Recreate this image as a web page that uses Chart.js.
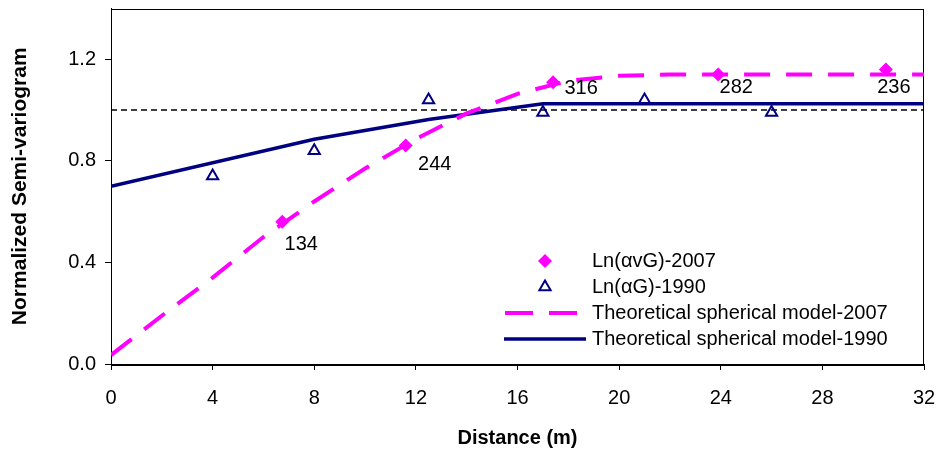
<!DOCTYPE html>
<html>
<head>
<meta charset="utf-8">
<script src="https://cdn.jsdelivr.net/npm/chart.js@4/dist/chart.umd.min.js"></script>
<style>
  html, body { margin: 0; padding: 0; background: #fff; }
  #wrap { width: 940px; height: 454px; position: relative; }
</style>
</head>
<body>
<div id="wrap"><canvas id="c"></canvas></div>
<script>
// ---- Data ----
const xTicks = [0, 4, 8, 12, 16, 20, 24, 28, 32];
const yTicks = [0.0, 0.4, 0.8, 1.2];

// Observed semi-variogram 2007 (diamonds) and number of pairs
const dist2007 = [6.74, 11.6, 17.4, 23.9, 30.5];
const sv2007 = [0.56, 0.86, 1.11, 1.14, 1.16];
const pairs2007 = ['134', '244', '316', '282', '236'];

// Observed semi-variogram 1990 (triangles)
const dist1990 = [4, 8, 12.5, 17, 21, 26];
const sv1990 = [0.74, 0.84, 1.04, 0.99, 1.04, 0.99];

// Theoretical spherical model 2007 (dashed magenta)
const modelDist2007 = [0, 2, 4, 6, 8, 10, 12, 14, 16, 18, 20, 22, 32];
const model2007 = [0.035, 0.19, 0.34, 0.50, 0.64, 0.77, 0.886, 0.987, 1.064, 1.115, 1.135, 1.14, 1.14];

// Theoretical spherical model 1990 (solid navy)
const modelDist1990 = [0, 8, 12.5, 17, 32];
const model1990 = [0.70, 0.885, 0.963, 1.025, 1.025];

// Reference sill line
const refDist = [0, 32];
const refValue = [1.0, 1.0];

const seriesNames = ['Ln(\u03B1vG)-2007', 'Ln(\u03B1G)-1990', 'Theoretical spherical model-2007', 'Theoretical spherical model-1990'];
const xTitle = 'Distance (m)';
const yTitle = 'Normalized Semi-variogram';

// ---- Styles ----
const MAGENTA = '#FF00FF';
const NAVY = '#000080';
const FONT = '"Liberation Sans", Arial, sans-serif';
const labelOffsets = [[19, 23], [29, 19], [28, 6], [18, 13], [8, 18]];

const toXY = (xs, ys) => xs.map((x, i) => ({ x: x, y: ys[i] }));

const framePlugin = {
  id: 'frame',
  beforeDatasetsDraw(chart) {
    const { ctx, chartArea: a } = chart;
    ctx.save();
    ctx.strokeStyle = '#000';
    ctx.lineWidth = 1;
    ctx.strokeRect(Math.round(a.left) + 0.5, Math.round(a.top) + 0.5,
      Math.round(a.right - a.left) - 1, Math.round(a.bottom - a.top));
    ctx.restore();
  }
};

const labelPlugin = {
  id: 'pairLabels',
  afterDatasetsDraw(chart) {
    const { ctx } = chart;
    const meta = chart.getDatasetMeta(0);
    ctx.save();
    ctx.font = '20px ' + FONT;
    ctx.fillStyle = '#000';
    ctx.textAlign = 'center';
    ctx.textBaseline = 'middle';
    meta.data.forEach((pt, i) => {
      const o = labelOffsets[i] || [15, 15];
      ctx.fillText(pairs2007[i], pt.x + o[0], pt.y + o[1]);
    });
    ctx.restore();
  }
};

const legendPlugin = {
  id: 'insideLegend',
  afterDraw(chart) {
    const { ctx } = chart;
    const rowY = [261, 287, 313, 339];
    const symX = 545, textX = 592;
    ctx.save();
    ctx.font = '20px ' + FONT;
    ctx.fillStyle = '#000';
    ctx.textAlign = 'left';
    ctx.textBaseline = 'middle';
    seriesNames.forEach((n, i) => ctx.fillText(n, textX, rowY[i]));
    // diamond
    ctx.fillStyle = MAGENTA;
    ctx.beginPath();
    ctx.moveTo(symX, rowY[0] - 7); ctx.lineTo(symX + 7, rowY[0]);
    ctx.lineTo(symX, rowY[0] + 7); ctx.lineTo(symX - 7, rowY[0]);
    ctx.closePath(); ctx.fill();
    // triangle
    ctx.strokeStyle = NAVY; ctx.lineWidth = 2;
    const r = 6.5, ty = rowY[1];
    ctx.beginPath();
    ctx.moveTo(symX, ty - r);
    ctx.lineTo(symX + r * Math.sin(Math.PI * 2 / 3), ty + r / 2);
    ctx.lineTo(symX - r * Math.sin(Math.PI * 2 / 3), ty + r / 2);
    ctx.closePath(); ctx.stroke();
    // dashed line
    ctx.strokeStyle = MAGENTA; ctx.lineWidth = 4;
    ctx.setLineDash([28, 16]);
    ctx.beginPath(); ctx.moveTo(505, rowY[2]); ctx.lineTo(577, rowY[2]); ctx.stroke();
    ctx.setLineDash([]);
    // solid line
    ctx.strokeStyle = NAVY; ctx.lineWidth = 3.5;
    ctx.beginPath(); ctx.moveTo(504, rowY[3]); ctx.lineTo(586, rowY[3]); ctx.stroke();
    ctx.restore();
  }
};

new Chart(document.getElementById('c'), {
  type: 'scatter',
  data: {
    datasets: [
      {
        label: seriesNames[0],
        data: toXY(dist2007, sv2007),
        showLine: false,
        pointStyle: 'rectRot',
        pointRadius: 7,
        pointBackgroundColor: MAGENTA,
        pointBorderColor: MAGENTA,
        pointBorderWidth: 0,
        order: 2
      },
      {
        label: seriesNames[1],
        data: toXY(dist1990, sv1990),
        showLine: false,
        pointStyle: 'triangle',
        pointRadius: 6.5,
        pointBackgroundColor: 'rgba(255,255,255,0)',
        pointBorderColor: NAVY,
        pointBorderWidth: 2,
        order: 3
      },
      {
        label: seriesNames[2],
        data: toXY(modelDist2007, model2007),
        showLine: true,
        borderColor: MAGENTA,
        borderWidth: 4,
        borderDash: [26, 16],
        pointRadius: 0,
        fill: false,
        tension: 0,
        order: 1
      },
      {
        label: seriesNames[3],
        data: toXY(modelDist1990, model1990),
        showLine: true,
        borderColor: NAVY,
        borderWidth: 3.5,
        pointRadius: 0,
        fill: false,
        tension: 0,
        order: 1
      },
      {
        label: 'Sill',
        data: toXY(refDist, refValue),
        showLine: true,
        borderColor: '#000',
        borderWidth: 1.5,
        borderDash: [6, 4],
        pointRadius: 0,
        fill: false,
        order: 4
      }
    ]
  },
  options: {
    responsive: true,
    maintainAspectRatio: false,
    animation: false,
    layout: { padding: { top: 8, right: 16, left: 0, bottom: 0 } },
    plugins: {
      legend: { display: false },
      tooltip: { enabled: false }
    },
    scales: {
      x: {
        type: 'linear',
        min: 0, max: 32,
        afterFit(s) { s.height = 90; s.paddingLeft = 0; s.paddingRight = 0; },
        afterBuildTicks(s) { s.ticks = xTicks.map(v => ({ value: v })); },
        ticks: { color: '#000', font: { family: FONT, size: 20 }, padding: 16, maxRotation: 0,
                 callback: v => String(v) },
        grid: { display: true, drawOnChartArea: false, drawTicks: true, tickLength: 6, color: '#000' },
        border: { display: true, color: '#000', width: 1 },
        title: { display: true, text: xTitle, color: '#000',
                 font: { family: FONT, size: 20, weight: 'bold' }, padding: { top: 0, bottom: 4 } }
      },
      y: {
        type: 'linear',
        min: 0, max: 1.4,
        afterFit(s) { s.width = 111; s.paddingTop = 0; s.paddingBottom = 0; },
        afterBuildTicks(s) { s.ticks = yTicks.map(v => ({ value: v })); },
        ticks: { color: '#000', font: { family: FONT, size: 20 }, padding: 9,
                 callback: v => Number(v).toFixed(1) },
        grid: { display: true, drawOnChartArea: false, drawTicks: true, tickLength: 6, color: '#000' },
        border: { display: true, color: '#000', width: 1 },
        title: { display: true, text: yTitle, color: '#000',
                 font: { family: FONT, size: 21, weight: 'bold' }, padding: { top: 8, bottom: 0 } }
      }
    }
  },
  plugins: [framePlugin, labelPlugin, legendPlugin]
});
</script>
</body>
</html>
